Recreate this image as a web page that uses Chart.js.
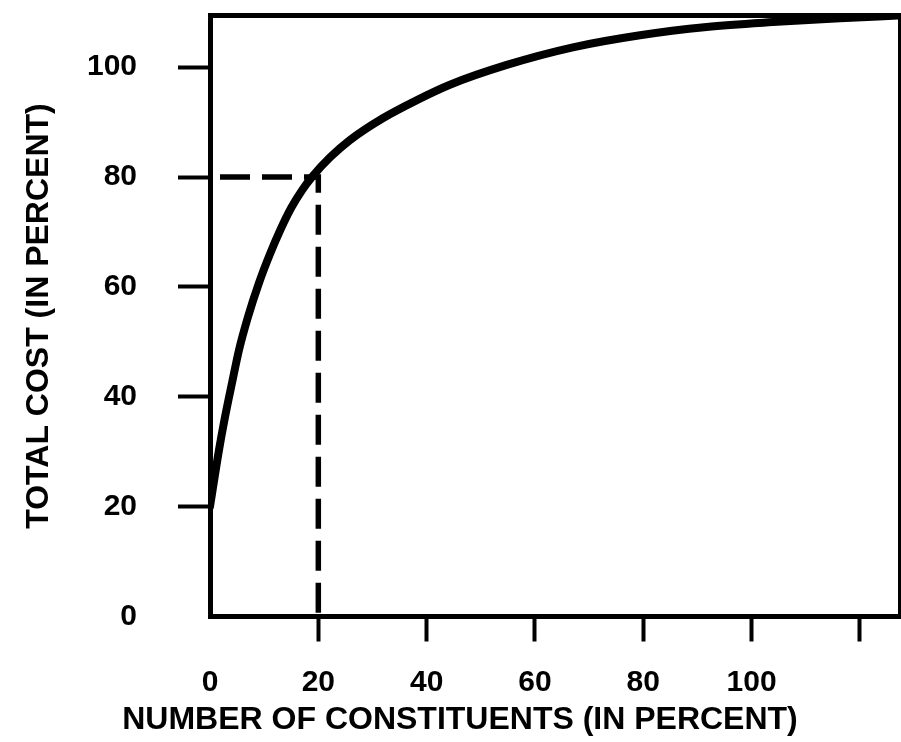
<!DOCTYPE html>
<html>
<head>
<meta charset="utf-8">
<script src="https://cdn.jsdelivr.net/npm/chart.js@4/dist/chart.umd.min.js"></script>
<style>
  html, body { margin: 0; padding: 0; background: #ffffff; }
  #wrap { width: 901px; height: 742px; position: relative; }
</style>
</head>
<body>
<div id="wrap"><canvas id="c" width="901" height="742"></canvas></div>
<script>
// ---- data ----
const curveX = [0, 1.66, 2.77, 4.06, 5.35, 7.0, 9.0, 11.0, 13.0, 15.0, 17.0, 19.0, 22.2, 25.8, 31.9, 38.2, 44.3, 54.8, 67.0, 79.4, 91.7, 103.9, 116.3, 127.0];
const curveY = [20, 30.3, 36.3, 42.5, 48.5, 54.5, 60.6, 65.8, 70.4, 74.4, 77.6, 80.2, 83.6, 86.7, 90.7, 94.0, 96.8, 100.4, 103.6, 105.8, 107.3, 108.2, 108.9, 109.4];
const guideX = [0, 20, 20];
const guideY = [80, 80, 0];
const xTickValues = [0, 20, 40, 60, 80, 100, 120];
const xTickLabels = ['0', '20', '40', '60', '80', '100', ''];
const yTickValues = [0, 20, 40, 60, 80, 100];
const yTickLabels = ['0', '20', '40', '60', '80', '100'];
const xTitle = 'NUMBER OF CONSTITUENTS (IN PERCENT)';
const yTitle = 'TOTAL COST (IN PERCENT)';
const xRange = [0, 127.4];
const yRange = [0, 109.4];

// ---- styling ----
const INK = '#000000';
const FAMILY = "'Liberation Sans', Arial, Helvetica, sans-serif";
const tickFont = { family: FAMILY, size: 30, weight: 'bold', lineHeight: 1.2 };
const titleFont = { family: FAMILY, size: 32, weight: 'bold', lineHeight: 1.2 };
const hideZero = (c) => (c.tick && c.tick.value === 0) ? 'rgba(0,0,0,0)' : INK;
const toPoints = (xs, ys) => xs.map((x, i) => ({ x: x, y: ys[i] }));

new Chart(document.getElementById('c'), {
  type: 'line',
  data: {
    datasets: [
      {
        data: toPoints(curveX, curveY),
        borderColor: INK,
        borderWidth: 8,
        pointRadius: 0,
        fill: false,
        cubicInterpolationMode: 'monotone',
        borderCapStyle: 'round',
        borderJoinStyle: 'round'
      },
      {
        data: toPoints(guideX, guideY),
        borderColor: INK,
        borderWidth: 5.5,
        pointRadius: 0,
        fill: false,
        tension: 0,
        borderDash: [30, 12],
        borderDashOffset: 32,
        borderCapStyle: 'butt'
      }
    ]
  },
  options: {
    responsive: false,
    devicePixelRatio: 1,
    animation: false,
    events: [],
    layout: { padding: { left: 20, right: 1, top: 15.5, bottom: 3.1 } },
    plugins: {
      legend: { display: false },
      tooltip: { enabled: false },
      title: {
        display: true,
        position: 'bottom',
        text: xTitle,
        color: INK,
        font: titleFont,
        padding: { top: 0, bottom: 0 }
      }
    },
    scales: {
      x: {
        type: 'linear',
        position: 'bottom',
        min: xRange[0],
        max: xRange[1],
        afterBuildTicks: (s) => { s.ticks = xTickValues.map(v => ({ value: v })); },
        afterFit: (s) => { s.height = 84; s.paddingLeft = 0; s.paddingRight = 0; },
        ticks: {
          callback: (v, i) => xTickLabels[i],
          color: INK,
          font: tickFont,
          padding: 23,
          maxRotation: 0,
          autoSkip: false
        },
        grid: { drawOnChartArea: false, drawTicks: true, tickLength: 25, tickWidth: 4, tickColor: hideZero },
        border: { display: true, color: INK, width: 5 }
      },
      y: {
        type: 'linear',
        position: 'left',
        min: yRange[0],
        max: yRange[1],
        afterBuildTicks: (s) => { s.ticks = yTickValues.map(v => ({ value: v })); },
        afterFit: (s) => { s.width = 190; s.paddingTop = 0; s.paddingBottom = 0; },
        ticks: {
          callback: (v, i) => yTickLabels[i],
          color: INK,
          font: tickFont,
          padding: 41,
          autoSkip: false
        },
        grid: { drawOnChartArea: false, drawTicks: true, tickLength: 32, tickWidth: 4, tickColor: hideZero },
        border: { display: true, color: INK, width: 5 },
        title: {
          display: true,
          text: yTitle,
          color: INK,
          font: titleFont,
          padding: { top: 0, bottom: 0 }
        }
      },
      x2: {
        type: 'linear',
        position: 'top',
        min: xRange[0],
        max: xRange[1],
        ticks: { display: false },
        grid: { drawOnChartArea: false, drawTicks: false },
        border: { display: true, color: INK, width: 5 }
      },
      y2: {
        type: 'linear',
        position: 'right',
        min: yRange[0],
        max: yRange[1],
        afterFit: (s) => { s.width = 0; s.paddingTop = 0; s.paddingBottom = 0; },
        ticks: { display: false },
        grid: { drawOnChartArea: false, drawTicks: false },
        border: { display: true, color: INK, width: 4 }
      }
    }
  }
});
</script>
</body>
</html>
